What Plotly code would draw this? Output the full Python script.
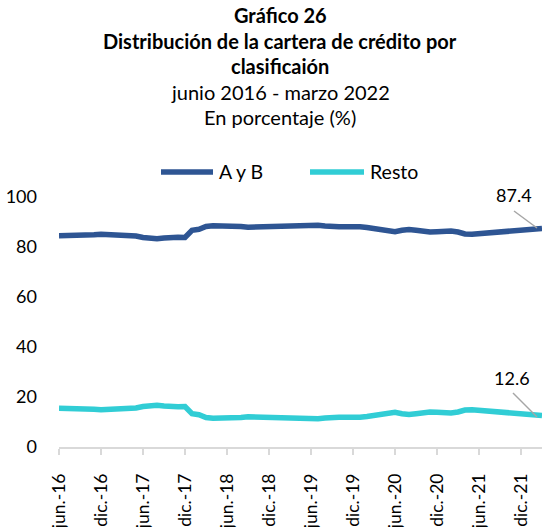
import plotly.graph_objects as go

months_es = ["ene.", "feb.", "mar.", "abr.", "may.", "jun.", "jul.", "ago.", "sep.", "oct.", "nov.", "dic."]
categories = []
y, m = 2016, 6
while (y, m) <= (2022, 3):
    categories.append(f"{months_es[m-1]}-{str(y)[2:]}")
    m += 1
    if m > 12:
        m = 1
        y += 1

a_y_b = [84.5, 84.5, 84.5, 84.6,
         84.7, 84.9, 85.1, 85.0, 84.6, 84.4, 84.4, 84.4,
         83.8, 83.3, 83.3, 83.6, 83.9, 83.9, 83.8,
         86.7, 87.1, 88.2, 88.5, 88.5,
         88.4, 88.3, 88.2, 87.9, 88.0, 88.3, 88.4, 88.5, 88.5, 88.6, 88.7,
         88.8, 88.8, 88.7, 88.4, 88.1, 88.1, 88.1, 88.2, 88.1, 87.8, 87.4, 86.9, 86.1,
         86.1, 86.7, 87.0, 86.7, 86.3, 86.0, 86.1, 86.3, 86.4, 86.0, 85.2, 85.1,
         85.3, 85.6, 85.9, 86.3, 86.6, 86.8, 87.0, 87.2, 87.3, 87.4]

resto = [15.5, 15.5, 15.5, 15.4,
         15.3, 15.1, 14.9, 15.0, 15.4, 15.6, 15.6, 15.6,
         16.2, 16.7, 16.7, 16.4, 16.1, 16.1, 16.2,
         13.3, 12.9, 11.8, 11.5, 11.5,
         11.6, 11.7, 11.8, 12.1, 12.0, 11.7, 11.6, 11.5, 11.5, 11.4, 11.3,
         11.2, 11.2, 11.3, 11.6, 11.9, 11.9, 11.9, 11.8, 11.9, 12.2, 12.6, 13.1, 13.9,
         13.9, 13.3, 13.0, 13.3, 13.7, 14.0, 13.9, 13.7, 13.6, 14.0, 14.8, 14.9,
         14.7, 14.4, 14.1, 13.7, 13.4, 13.2, 13.0, 12.8, 12.7, 12.6]

series_names = ["A y B", "Resto"]
tick_labels = categories[::6]

FONT = "Lato"
BLUE = "#2E5593"
CYAN = "#31CDD5"
colors = [BLUE, CYAN]

fig = go.Figure()
for name, vals, col in zip(series_names, [a_y_b, resto], colors):
    fig.add_trace(go.Scatter(x=categories, y=vals, mode="lines", name=name,
                             line=dict(color=col, width=5.5), showlegend=False,
                             hoverinfo="skip"))

L, W, H = 59.0, 483.0, 250.0
def px_x(px):
    return (px - L) / W
def py(px):
    return (447 - px) / H

title_lines = [
    ("<b>Gráfico 26</b>", 15),
    ("<b>Distribución de la cartera de crédito por</b>", 41),
    ("<b>clasificaión</b>", 66),
    ("junio 2016 - marzo 2022", 92),
    ("En porcentaje (%)", 117),
]
for txt, ypx in title_lines:
    fig.add_annotation(text=txt, xref="paper", yref="paper",
                       x=px_x(280), y=py(ypx), xanchor="center", yanchor="middle",
                       showarrow=False, font=dict(family=FONT, size=20, color="black"))

# legend drawn manually
legend_pos = [(161, 213), (310, 364)]
for (x0, x1), name, col in zip(legend_pos, series_names, colors):
    fig.add_shape(type="line", xref="paper", yref="paper",
                  x0=px_x(x0), x1=px_x(x1), y0=py(172), y1=py(172),
                  line=dict(color=col, width=5.5))
    fig.add_annotation(text=name, xref="paper", yref="paper", x=px_x(x1 + 4), y=py(172),
                       xanchor="left", yanchor="middle", showarrow=False,
                       font=dict(family=FONT, size=19.5, color="black"))

# end-value labels with leader lines, anchored to the last data point
label_specs = [
    (a_y_b[-1], (-28, 33.5), (-28, 17.5, -5, 0.5)),
    (resto[-1], (-30, 37.5), (-29, 22.5, -5, -1.5)),
]
for val, (xs, ys), (lx0, ly0, lx1, ly1) in label_specs:
    fig.add_annotation(x=categories[-1], y=val, text=f"{val}", showarrow=False,
                       xshift=xs, yshift=ys, xanchor="center", yanchor="middle",
                       font=dict(family=FONT, size=18, color="black"))
    fig.add_shape(type="line", xref="x", yref="y", xsizemode="pixel", ysizemode="pixel",
                  xanchor=len(categories) - 1, yanchor=val,
                  x0=lx0, y0=ly0, x1=lx1, y1=ly1,
                  line=dict(color="#A6A6A6", width=1.5))

fig.update_layout(
    width=542, height=527,
    margin=dict(l=59, r=0, t=197, b=80),
    paper_bgcolor="white", plot_bgcolor="white",
    font=dict(family=FONT, size=17, color="black"),
    showlegend=False,
    xaxis=dict(type="category", range=[0, len(categories) - 1], automargin=False,
               tickmode="array", tickvals=tick_labels, ticktext=tick_labels,
               tickangle=-90, showgrid=False, showline=True, linecolor="#D9D9D9", linewidth=1.5,
               ticks="outside", ticklen=6, tickcolor="#D9D9D9", tickwidth=1.5,
               ticklabelstandoff=12, tickfont=dict(family=FONT, size=17.5, color="black"),
               zeroline=False, fixedrange=True),
    yaxis=dict(range=[0, 100], tickvals=[0, 20, 40, 60, 80, 100], showgrid=False, automargin=False,
               showline=False, zeroline=False, ticks="", ticklabelstandoff=21,
               tickfont=dict(family=FONT, size=18, color="black"), fixedrange=True),
)

fig.write_html("out.html", config={"displayModeBar": False, "staticPlot": True},
               post_script="document.body.style.margin='0';document.body.style.overflow='hidden';")
